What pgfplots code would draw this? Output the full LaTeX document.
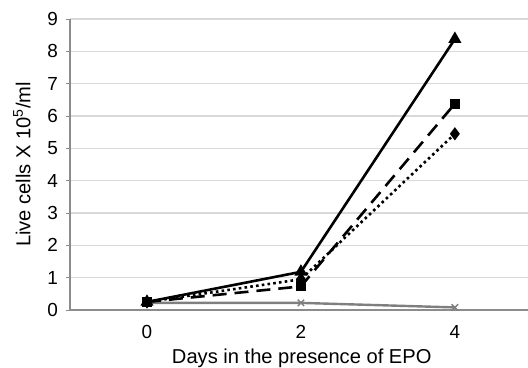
\documentclass[border=0pt]{standalone}
\usepackage{fontspec}
\setmainfont{Liberation Sans}
\usepackage{pgfplots}
\pgfplotsset{compat=1.18}
\definecolor{gridc}{HTML}{D9D9D9}
\definecolor{axc}{HTML}{8C8C8C}
\definecolor{grayser}{HTML}{7F7F7F}
\begin{document}
\begin{tikzpicture}
\useasboundingbox (-70bp,-58bp) rectangle (458bp,310bp);
\begin{axis}[
  scale only axis,
  width=458bp, height=291bp,
  xmin=-1, xmax=4.95,
  ymin=0, ymax=9,
  axis x line*=bottom, axis y line*=left,
  axis line style={draw=axc, line width=1.4bp, -},
  xtick={0,2,4},
  ytick={0,1,2,3,4,5,6,7,8,9},
  x tick style={draw=none},
  y tick style={draw=axc, line width=1bp},
  tick align=outside,
  major tick length=4bp,
  ymajorgrids,
  grid style={draw=gridc, line width=1.6bp},
  /pgf/number format/assume math mode=true,
  tick label style={font=\fontsize{19}{22}\selectfont},
  xticklabel style={anchor=base, yshift=-24bp, inner sep=0pt},
  yticklabel style={anchor=east, inner sep=0pt, xshift=-8bp},
  every axis x label/.style={at={(axis description cs:0.506,0)}, anchor=base, yshift=-53bp, font=\fontsize{20.2}{23}\selectfont},
  every axis y label/.style={at={(axis description cs:0,0.5)}, xshift=-48bp, rotate=90, anchor=center, font=\fontsize{20.2}{23}\selectfont},
  xlabel={Days in the presence of EPO},
  ylabel={Live cells X 10\textsuperscript{5}/ml},
  clip=false,
]
\addplot[grayser, line width=2.4bp, mark=x, mark size=4.5bp, mark options={line width=1.4bp}]
  coordinates {(0,0.22) (2,0.22) (4,0.08)};
\addplot[black, line width=2.6bp, mark=triangle*, mark size=5bp, mark options={solid}]
  coordinates {(0,0.25) (2,1.18) (4,8.38)};
\addplot[black, line width=2.6bp, dash pattern=on 2.6bp off 3.2bp, mark=diamond*, mark size=4.5bp, mark options={solid}]
  coordinates {(0,0.25) (2,0.95) (4,5.45)};
\addplot[black, line width=2.6bp, dash pattern=on 14bp off 8bp, mark=square*, mark size=3.8bp, mark options={solid}]
  coordinates {(0,0.25) (2,0.73) (4,6.38)};
\end{axis}
\end{tikzpicture}
\end{document}
